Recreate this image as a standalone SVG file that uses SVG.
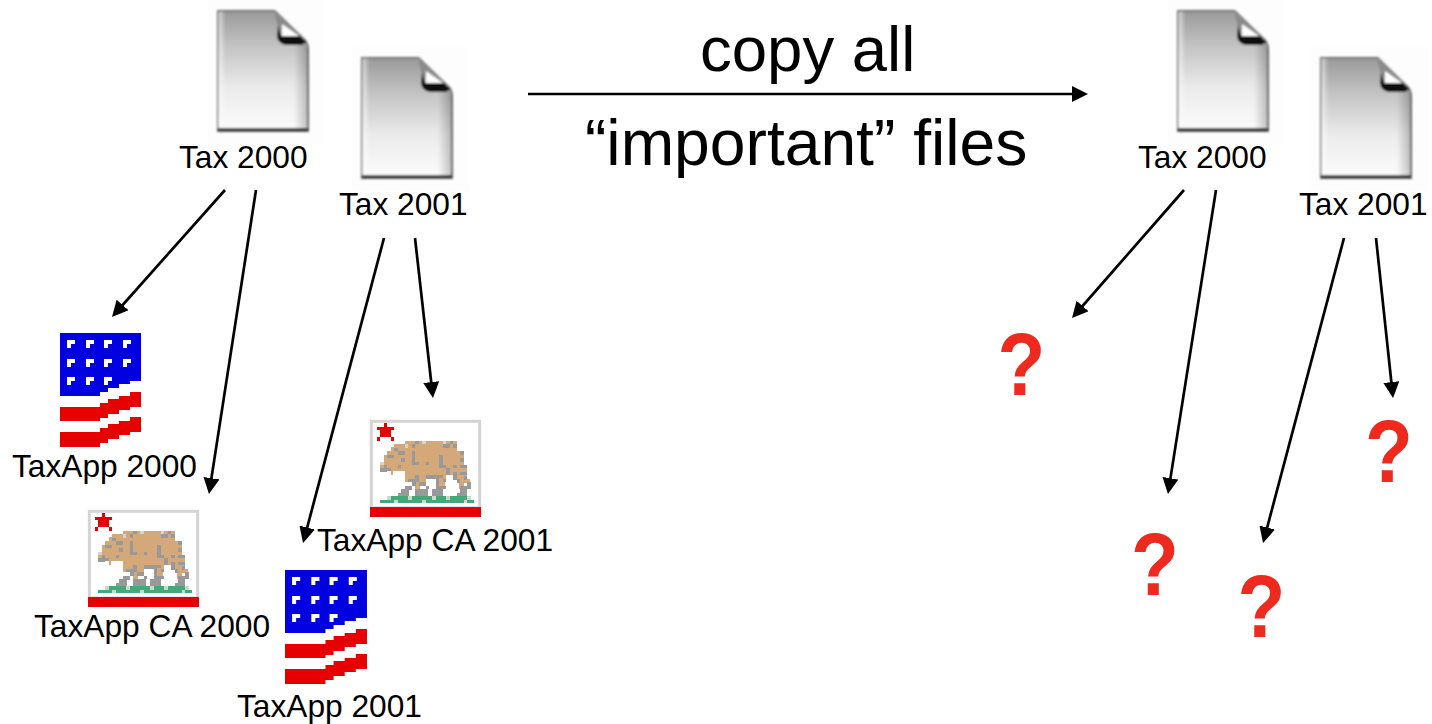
<svg xmlns="http://www.w3.org/2000/svg" width="1432" height="724" viewBox="0 0 1432 724">
<style>
text{font-family:"Liberation Sans",Arial,sans-serif;fill:#000}
.l{font-size:31.700px}
.b{font-size:64.200px}
.q{font-size:82px;font-weight:bold;fill:#ee2a1e;text-anchor:middle}
.c{stroke:#000;stroke-width:2.700;fill:none;marker-end:url(#ah)}
</style>
<defs>
<marker id="ah" markerUnits="userSpaceOnUse" markerWidth="18" markerHeight="18" refX="8" refY="8" orient="auto"><path d="M0 0L16 8L0 16Z" fill="#000"/></marker>
<linearGradient id="dg" x1="0" y1="0" x2="0" y2="1"><stop offset="0" stop-color="#9a9a9a"/><stop offset=".3" stop-color="#c4c4c4"/><stop offset=".65" stop-color="#ebebeb"/><stop offset="1" stop-color="#fbfbfb"/></linearGradient>
<linearGradient id="ds" x1="0" y1="0" x2="1" y2="0"><stop offset="0" stop-color="#fff" stop-opacity=".6"/><stop offset=".08" stop-color="#fff" stop-opacity="0"/><stop offset=".85" stop-color="#000" stop-opacity="0"/><stop offset="1" stop-color="#000" stop-opacity=".22"/></linearGradient>
<filter id="bl" x="-10%" y="-10%" width="120%" height="120%"><feGaussianBlur stdDeviation="1"/></filter>
<g id="doc">
<rect x="8" y="0" width="117" height="144" fill="#fdfdfd"/>
<g filter="url(#bl)">
<path d="M17 10H75L106 40Q109 44 109 50V132H17Z" fill="#666"/>
<path d="M18.500 11.500H76L80 36L107 44V129H18.500Z" fill="url(#dg)"/>
<path d="M18.500 11.500H76L80 36L107 44V129H18.500Z" fill="url(#ds)"/>
<path d="M74 11L80 36L106 40L76 11Z" fill="#8a8a8a"/>
<path d="M82 24L99 36H82Z" fill="#fff"/>
<path d="M78 26L81 36H100L106 42L102 45H86Q78 44 77 36Z" fill="#111"/>
<rect x="18" y="128" width="90" height="3" fill="#333"/>
</g>
</g>
<g id="us">
<path d="M0 0H81V48H70V51H59V55H48V59H40V63H0Z" fill="#0000e0"/>
<path d="M0 74H40V70H48V66H59V63H70V59H81V74H70V77H59V81H48V85H40V88H0Z" fill="#e60000"/>
<path d="M0 99H40V95H48V91H59V88H70V84H81V99H70V102H59V106H48V110H40V114H0Z" fill="#e60000"/>
<path id="w" d="M7 7H15V11H11V15H7Z" fill="#fff"/>
<use href="#w" x="19"/><use href="#w" x="37"/><use href="#w" x="56"/>
<use href="#w" y="19"/><use href="#w" x="19" y="19"/><use href="#w" x="37" y="19"/><use href="#w" x="56" y="19"/>
<use href="#w" y="37"/><use href="#w" x="19" y="37"/><use href="#w" x="37" y="37"/>
</g>
<g id="ca">
<g transform="scale(.3333) translate(-15,-15)">
<rect x="19" y="19" width="325" height="260" fill="#fff" stroke="#d4d4d4" stroke-width="9"/>
<rect x="15" y="276" width="333" height="30" fill="#e60000"/>
<path d="M57 24H66V36H87V45H78V66H87V78H78V66H45V78H36V66H45V45H36V36H57Z" fill="#e60000"/>
<path d="M45 168V150L57 147V120H66V108H78V96H87V87H120V78H276V108H297V150H306V192H315V204H297V222H282V195H264V180H243V192H240V222H222V192H183V201H165V222H150V201H120V168H84V180H78V168Z" fill="#d4a878"/>
<path d="M150 78h12v9h-12zM234 87h21v12h-21zM255 78h9v9h-9zM264 87h12v12h-12zM141 87h9v12h-9zM87 99h12v9h-12zM99 108h21v12h-21zM66 120h21v9h-21zM108 129h12v12h-12zM141 108h9v36h-9zM141 141h21v9h-21zM183 141h9v9h-9zM222 120h12v39h-12zM222 150h21v9h-21zM264 150h12v9h-12zM285 108h12v12h-12zM285 129h12v12h-12zM285 150h21v9h-21zM45 159h21v12h-21zM66 159h12v9h-12zM99 150h9v9h-9zM57 150h9v9h-9zM243 159h12v21h-12zM264 171h12v24h-12zM285 171h21v9h-21zM297 183h9v12h-9zM276 192h9v12h-9zM183 180h39v12h-39zM150 180h12v12h-12zM222 180h12v9h-12zM234 192h9v9h-9zM129 192h33v9h-33zM162 201h21v12h-21zM141 201h12v12h-12zM129 213h12v12h-12zM120 213h9v9h-9zM183 213h9v9h-9zM213 192h9v45h-9zM222 213h21v9h-21zM108 222h24v12h-24zM150 222h39v21h-39zM201 222h33v21h-33zM99 234h33v9h-33zM285 213h21v24h-21zM306 201h12v21h-12zM276 234h30v9h-30z" fill="#999"/>
<path d="M171 78h12v9h-12zM120 87h9v12h-9zM234 78h9v9h-9zM45 141h12v9h-12z" fill="#d4d4d4"/>
<path d="M78 243H306V255H327V264H45V255H78Z" fill="#45a878"/>
<path d="M66 243h12v12h-12zM129 243h12v12h-12zM201 243h12v12h-12zM243 243h12v12h-12zM306 243h12v12h-12zM87 255h12v9h-12zM171 255h12v9h-12zM297 255h9v9h-9z" fill="#cfd8cf"/>
</g>
</g>
</defs>
<use href="#doc" x="200" y="0"/>
<use href="#doc" x="344" y="47"/>
<use href="#doc" x="1160" y="0"/>
<use href="#doc" x="1303" y="47"/>
<g id="connectors">
<path class="c" d="M528 94H1080"/>
<path class="c" d="M225 190L117.300 311"/>
<path class="c" d="M256 190L210.200 486.100"/>
<path class="c" d="M384 238L305.100 535.300"/>
<path class="c" d="M415 238L432.100 390"/>
<path class="c" d="M1184 190L1077.300 312"/>
<path class="c" d="M1216 190L1169.200 486.100"/>
<path class="c" d="M1344 238L1265.100 535.300"/>
<path class="c" d="M1376 238L1392.200 390"/>
</g>
<g id="label-copy"><text class="b" x="700" y="71" style="font-size:63.500px">copy all</text><text class="b" x="585" y="165">“important” files</text></g>
<g id="tax2000"><text class="l" x="179" y="168">Tax 2000</text></g>
<g id="tax2001"><text class="l" x="339" y="215">Tax 2001</text></g>
<g id="taxapp2000"><use href="#us" x="60" y="333"/><text class="l" x="12" y="477">TaxApp 2000</text></g>
<g id="taxappca2000"><use href="#ca" x="88" y="510"/><text class="l" x="34" y="637">TaxApp CA 2000</text></g>
<g id="taxappca2001"><use href="#ca" x="370" y="420"/><text class="l" x="317" y="551">TaxApp CA 2001</text></g>
<g id="taxapp2001"><use href="#us" transform="translate(285,570) scale(1.012,1)"/><text class="l" x="237" y="717">TaxApp 2001</text></g>
<g id="tax2000-copy"><text class="l" x="1138" y="168">Tax 2000</text></g>
<g id="tax2001-copy"><text class="l" x="1299" y="215">Tax 2001</text></g>
<g id="q1"><text class="q" transform="translate(1021.500,395) scale(.955,1.085)">?</text></g>
<g id="q2"><text class="q" transform="translate(1389,482) scale(.955,1.085)">?</text></g>
<g id="q3"><text class="q" transform="translate(1155,595) scale(.955,1.085)">?</text></g>
<g id="q4"><text class="q" transform="translate(1261.500,637) scale(.955,1.085)">?</text></g>
</svg>
